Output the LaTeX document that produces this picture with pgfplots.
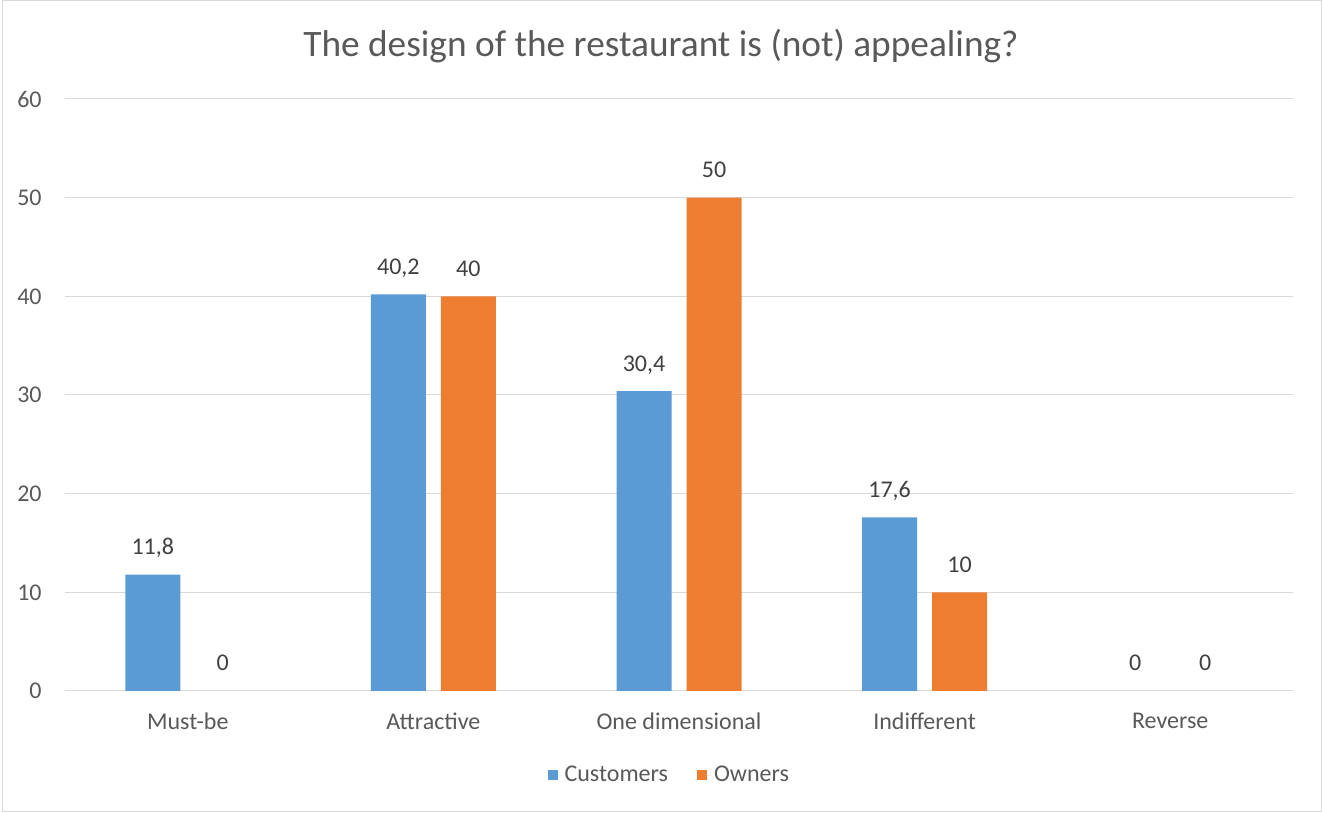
\documentclass[border=0pt]{standalone}
\usepackage{pgfplots}
\pgfplotsset{compat=1.18}
\usepackage{fontspec}
\setmainfont{Carlito}
\definecolor{cblue}{HTML}{5B9BD5}
\definecolor{corange}{HTML}{ED7D31}
\definecolor{txt}{HTML}{595959}
\definecolor{lbl}{HTML}{404040}
\definecolor{gridc}{HTML}{D9D9D9}
\begin{document}
\begin{tikzpicture}[x=0.75pt,y=0.75pt]
\path[use as bounding box] (0,0) rectangle (1322,813);
\draw[gridc, line width=0.75pt] (2,1) rectangle (1321,812);
\node[txt, font=\fontsize{28}{32}\selectfont] at (661,767) {The design of the restaurant is (not) appealing?};
\begin{axis}[
  at={(48.75pt,91.5pt)}, anchor=south west,
  scale only axis, width=921pt, height=444pt,
  xmin=-0.5, xmax=4.5, ymin=0, ymax=60,
  enlargelimits=false,
  ybar, bar width=41.25pt,
  xtick={0,...,4},
  xticklabels={Must-be,Attractive,One dimensional,Indifferent,Reverse},
  ytick={0,10,...,60},
  ymajorgrids, grid style={gridc, line width=0.75pt},
  axis x line*=bottom, axis y line*=left,
  x axis line style={gridc, line width=0.75pt, -},
  y axis line style={draw=none},
  major tick length=0pt,
  tick label style={txt, font=\fontsize{18}{21}\selectfont},
  yticklabel style={xshift=-14pt},
  xticklabel style={yshift=-13pt},
  /pgf/number format/assume math mode=true,
  /pgf/number format/use comma,
  nodes near coords,
  nodes near coords style={lbl, font=\fontsize{18}{21}\selectfont, anchor=base, yshift=15pt},
  legend style={at={(0.4925,-0.1419)}, anchor=center, draw=none, legend columns=2,
    font=\fontsize{18}{21}\selectfont, text=txt,
    /tikz/every even column/.append style={column sep=20pt}},
  legend image code/.code={\fill[#1] (0pt,-3.75pt) rectangle (7.5pt,3.75pt); \path (0pt,0pt) -- (10.5pt,0pt);},
]
\addplot[fill=cblue, draw=none, bar shift=-26.25pt] coordinates {(0,11.8) (1,40.2) (2,30.4) (3,17.6)};
\addplot[fill=corange, draw=none, bar shift=26.25pt] coordinates {(1,40) (2,50) (3,10)};
\addplot[draw=none, fill=none, bar shift=-26.25pt, forget plot] coordinates {(4,0)};
\addplot[draw=none, fill=none, bar shift=26.25pt, forget plot] coordinates {(0,0) (4,0)};
\legend{Customers, Owners}
\end{axis}
\end{tikzpicture}
\end{document}
